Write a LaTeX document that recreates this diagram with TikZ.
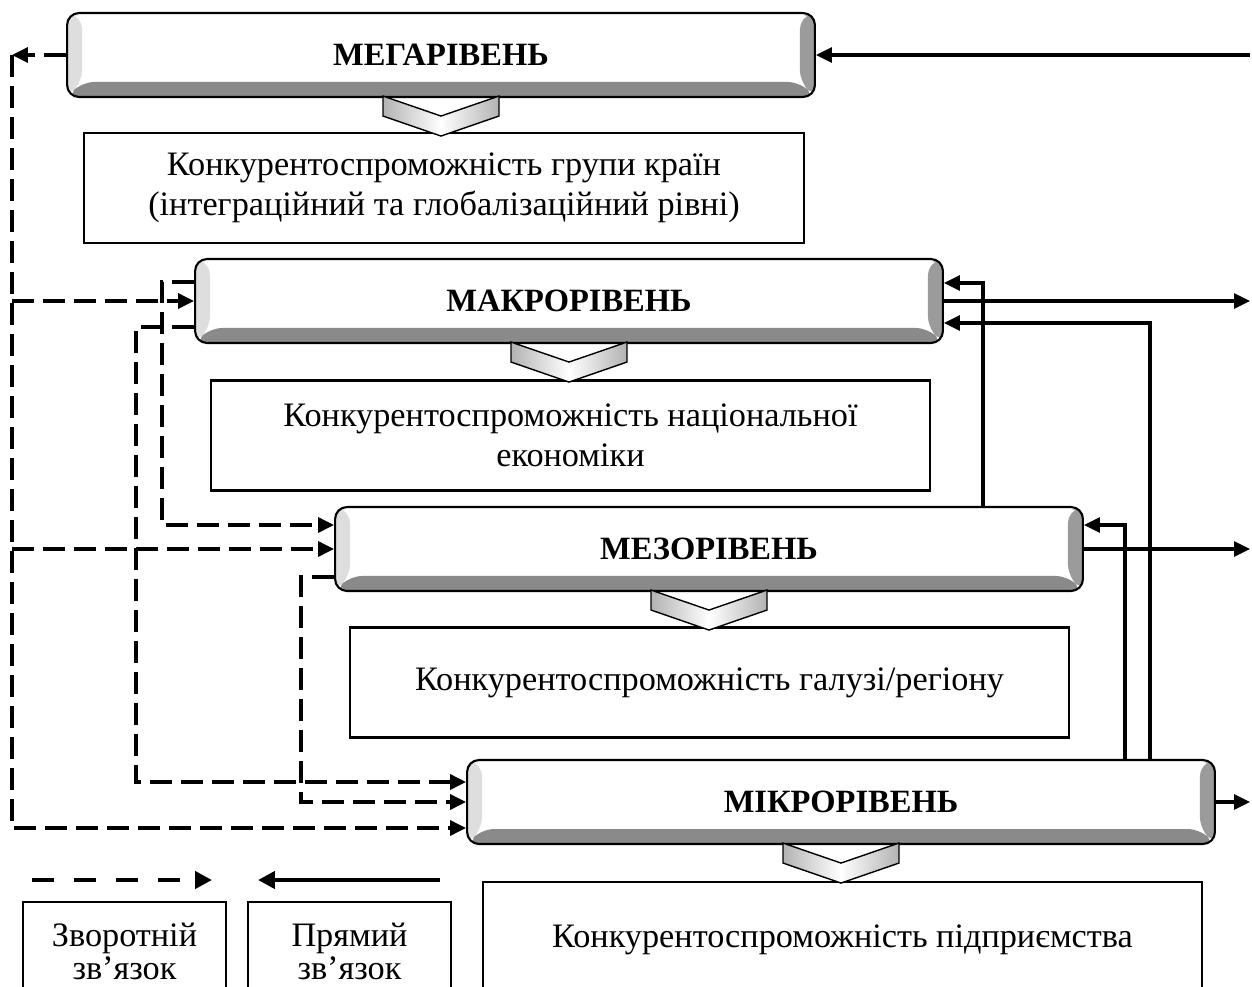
\documentclass[tikz,border=0pt]{standalone}
\usepackage{fontspec}
\setmainfont{Liberation Serif}
\usepackage{tikz}
\usetikzlibrary{arrows.meta,calc}
\definecolor{bevellight}{RGB}{222,222,222}
\definecolor{bevelmid}{RGB}{155,155,155}
\definecolor{beveldark}{RGB}{138,138,138}
\newcommand{\bevelw}{0.3cm}

\begin{document}
\begin{tikzpicture}[x=0.02cm, y=-0.02cm,
  font=\fontsize{19.5}{23}\selectfont,
  level/.style={draw, line width=1.2pt, rounded corners=0.24cm, fill=white,
    minimum width=14.96cm, minimum height=1.68cm, font=\fontsize{18.5}{23}\selectfont\bfseries,
    path picture={
      \path (path picture bounding box.south west) coordinate (pa)
            (path picture bounding box.north east) coordinate (pb);
      \fill[bevellight] (pa) -- (pa|-pb) -- ++(\bevelw,-0.08cm)
        -- ($(pa)+(\bevelw,\bevelw)$) -- cycle;
      \fill[beveldark] (pa) -- ++(\bevelw,\bevelw)
        -- ($(pb|-pa)+(-\bevelw,\bevelw)$) -- (pb|-pa) -- cycle;
      \fill[bevelmid] (pb|-pa) -- ++(-\bevelw,\bevelw)
        -- ($(pb)+(-\bevelw,-0.08cm)$) -- (pb) -- cycle;
    }},
  content/.style={draw, line width=1.2pt, minimum width=14.4cm, minimum height=2.2cm, align=center},
  legendbox/.style={draw, line width=1.2pt, minimum width=4.06cm, minimum height=1.96cm, align=center,
    font=\fontsize{19.5}{18.8}\selectfont},
  chevron/.style={draw, line width=0.8pt, left color=gray!60, right color=gray!60, middle color=white},
  fb/.style={line width=2pt, dash pattern=on 0.44cm off 0.18cm, -{Triangle[length=0.32cm,width=0.3cm]}},
  fw/.style={line width=1.8pt, -{Triangle[length=0.32cm,width=0.3cm]}},
  fblegend/.style={line width=2.8pt, dash pattern=on 0.44cm off 0.4cm, -{Triangle[length=0.34cm,width=0.34cm]}},
  fwlegend/.style={line width=2.8pt, -{Triangle[length=0.34cm,width=0.34cm]}}]
  \useasboundingbox (0,0) rectangle (1252,987);
  % Рівні конкурентоспроможності та їхній зміст.
  \node[content] (cmega) at (444,188)
    {Конкурентоспроможність групи країн\\(інтеграційний та глобалізаційний рівні)};
  \node[content] (cmacro) at (570.5,435.5)
    {Конкурентоспроможність національної\\економіки};
  \node[content] (cmezo) at (709.5,682.5) {Конкурентоспроможність галузі/регіону};
  \node[content, minimum height=2.32cm] (cmikro) at (842.5,940) {Конкурентоспроможність підприємства};
  \node[level] (mega) at (441,55) {МЕГАРІВЕНЬ};
  \node[level] (macro) at (569,301) {МАКРОРІВЕНЬ};
  \node[level] (mezo) at (709,549) {МЕЗОРІВЕНЬ};
  \node[level] (mikro) at (841,802) {МІКРОРІВЕНЬ};
  % Шеврони від рівня до його змісту.
  \foreach \lv in {mega,macro,mezo,mikro}
    \draw[chevron, shift={(\lv.south)}]
      (-58,-2) -- (0,18) -- (58,-2) -- (58,18) -- (0,38) -- (-58,18) -- cycle;
  % Зворотні зв'язки ліворуч.
  \coordinate (fbtop) at (12,55);
  \draw[fb] (mega.west) -- (fbtop);
  \draw[fb] (fbtop) |- ([yshift=-0.52cm]mikro.west);
  \draw[fb] (fbtop |- macro.west) -- (macro.west);
  \draw[fb] (fbtop |- mezo.west) -- (mezo.west);
  \draw[fb] ([yshift=0.38cm]macro.west) -- ++(-32,0) |- ([yshift=0.48cm]mezo.west);
  \draw[fb] ([yshift=-0.52cm]macro.west) -- ++(-58,0) |- ([yshift=0.4cm]mikro.west);
  \draw[fb] ([yshift=-0.56cm]mezo.west) -- ++(-33,0) |- (mikro.west);
  % Прямі зв'язки праворуч.
  \coordinate (rim) at (1250,55);
  \draw[fw] (rim) -- (mega.east);
  \draw[fw] (macro.east) -- (macro.east -| rim);
  \draw[fw] (mezo.east) -- (mezo.east -| rim);
  \draw[fw] (mikro.east) -- (mikro.east -| rim);
  \draw[fw] ([xshift=5.48cm]mezo.north) |- ([yshift=0.36cm]macro.east);
  \draw[fw] ([xshift=5.68cm]mikro.north) |- ([yshift=0.48cm]mezo.east);
  \draw[fw] ([xshift=6.18cm]mikro.north) |- ([yshift=-0.44cm]macro.east);
  % Умовні позначення.
  \node[legendbox] (lback) at (124.5,951) {Зворотній\\зв’язок};
  \node[legendbox] (lfwd) at (349.5,951) {Прямий\\зв’язок};
  \coordinate (lbacka) at (32,880);
  \coordinate (lbackb) at (212,880);
  \coordinate (lfwda) at (440,880);
  \coordinate (lfwdb) at (258,880);
  \draw[fblegend] (lbacka) -- (lbackb);
  \draw[fwlegend] (lfwda) -- (lfwdb);
\end{tikzpicture}
\end{document}
